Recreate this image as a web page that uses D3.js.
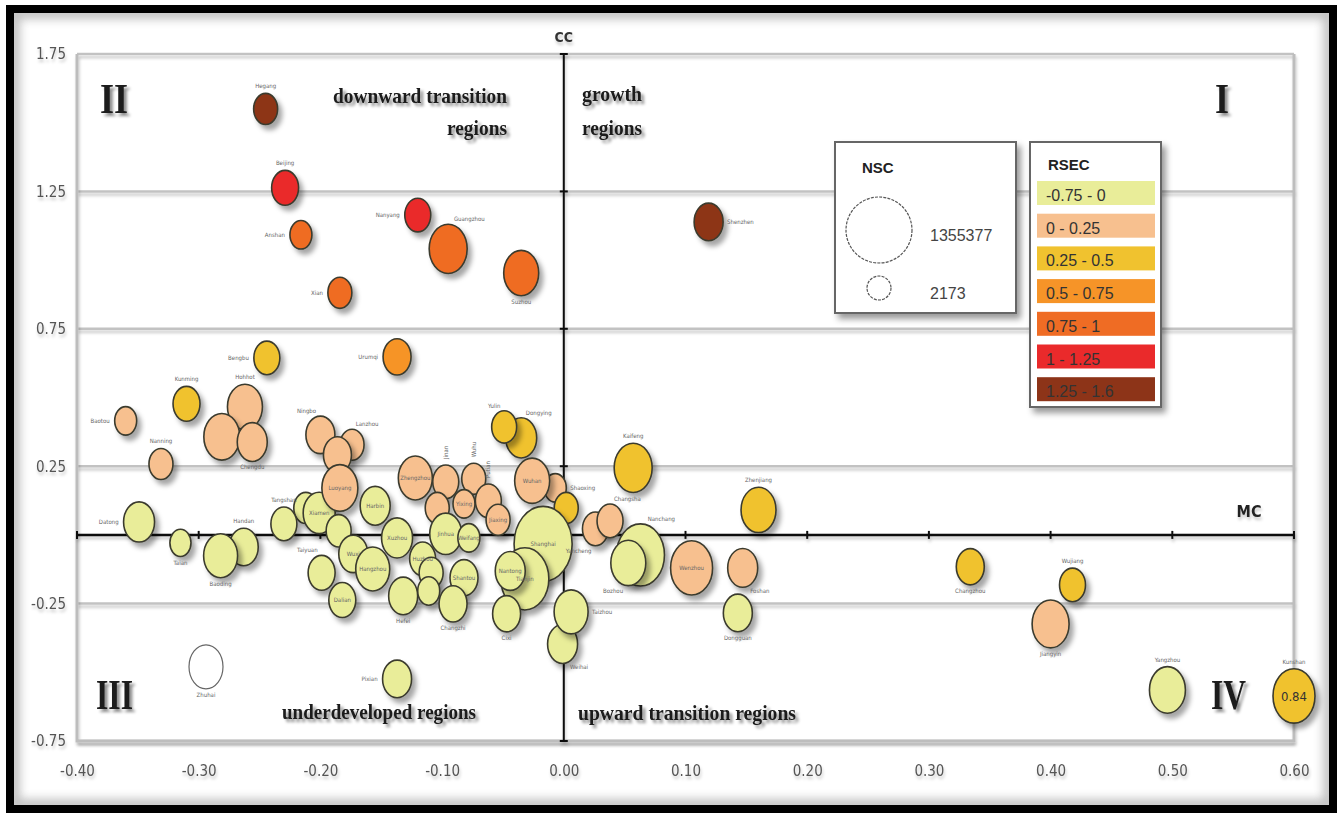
<!DOCTYPE html>
<html>
<head>
<meta charset="utf-8">
<script src="https://cdn.jsdelivr.net/npm/d3@7"></script>
<style>
  body { margin: 0; background: #fff; }
  svg { display: block; }
</style>
</head>
<body>
<div id="chart"></div>
<script>
const cities = [
  'Hegang', 'Beijing', 'Anshan', 'Nanyang', 'Guangzhou', 'Suzhou', 'Xian', 'Shenzhen',
  'Bengbu', 'Urumqi', 'Kunming', 'Baotou', 'Nanning', 'Hohhot', 'Chongqing', 'Chengdu',
  'Ningbo', 'Lanzhou', 'Jilin', 'Zibo', 'Xiamen', 'Luoyang', 'Tangshan', 'Yantai',
  'Harbin', 'Xuzhou', 'Wuxi', 'Hangzhou', 'Taiyuan', 'Dalian', 'Hefei', 'Zhengzhou',
  'Jinan', 'Wuhu', 'Fuzhou', 'Yixing', 'Putian', 'Jiaxing', 'Huzhou', 'Linyi',
  'Jining', 'Jinhua', 'Weifang', 'Shantou', 'Changzhi', 'Dongying', 'Yulin', 'Shaoxing',
  'Wuhan', 'Liuzhou', 'Shanghai', 'Tianjin', 'Nantong', 'Cixi', 'Weihai', 'Taizhou',
  'Datong', 'Taian', 'Handan', 'Baoding', 'Kaifeng', 'Zhenjiang', 'Yancheng', 'Changsha',
  'Nanchang', 'Bozhou', 'Wenzhou', 'Foshan', 'Dongguan', 'Changzhou', 'Wujiang', 'Jiangyin',
  'Yangzhou', 'Kunshan', 'Pixian', 'Zhuhai'
];

// MC (x)
const mcValues = [
  -0.245, -0.229, -0.216, -0.120, -0.095, -0.035, -0.184, 0.119,
  -0.244, -0.137, -0.310, -0.360, -0.331, -0.262, -0.281, -0.256,
  -0.200, -0.174, -0.186, -0.212, -0.201, -0.184, -0.230, -0.185,
  -0.155, -0.137, -0.173, -0.157, -0.199, -0.182, -0.132, -0.122,
  -0.097, -0.074, -0.104, -0.082, -0.062, -0.054, -0.116, -0.109,
  -0.111, -0.097, -0.078, -0.082, -0.091, -0.035, -0.049, -0.007,
  -0.026, 0.002, -0.017, -0.032, -0.044, -0.047, -0.001, 0.006,
  -0.349, -0.315, -0.263, -0.282, 0.057, 0.160, 0.026, 0.038,
  0.063, 0.053, 0.105, 0.147, 0.143, 0.334, 0.418, 0.400,
  0.496, 0.84, -0.137, -0.294
];

// CC (y)
const ccValues = [
  1.550, 1.263, 1.092, 1.164, 1.041, 0.953, 0.881, 1.139,
  0.644, 0.648, 0.477, 0.415, 0.258, 0.466, 0.357, 0.338,
  0.364, 0.328, 0.291, 0.098, 0.080, 0.171, 0.040, 0.015,
  0.106, -0.011, -0.069, -0.124, -0.138, -0.237, -0.222, 0.207,
  0.193, 0.204, 0.098, 0.113, 0.124, 0.055, -0.087, -0.138,
  -0.204, 0.004, -0.011, -0.156, -0.251, 0.353, 0.393, 0.171,
  0.197, 0.098, -0.033, -0.160, -0.131, -0.287, -0.397, -0.280,
  0.047, -0.029, -0.044, -0.076, 0.244, 0.091, 0.022, 0.051,
  -0.073, -0.102, -0.120, -0.120, -0.284, -0.116, -0.182, -0.324,
  -0.564, -0.586, -0.524, -0.480
];

// NSC (bubble size)
const nscValues = [
  17900, 50200, 5360, 37600, 310000, 217000, 17900, 81200,
  37600, 64800, 50200, 5360, 17900, 217000, 246000, 99300,
  81200, 17900, 64800, 17900, 141000, 246000, 37600, 26800,
  99300, 119000, 81200, 190000, 50200, 50200, 81200, 190000,
  37600, 17900, 17900, 5360, 37600, 17900, 37600, 17900,
  5360, 141000, 5360, 64800, 64800, 119000, 26800, 5360,
  217000, 17900, 1355377, 738000, 99300, 64800, 99300, 190000,
  119000, 2173, 81200, 190000, 310000, 217000, 37600, 37600,
  738000, 217000, 459000, 99300, 81200, 64800, 37600, 277000,
  246000, 459000, 81200, 190000
];

// RSEC (colour class)
const rsecValues = [
  1.42, 1.12, 0.86, 1.08, 0.82, 0.79, 0.90, 1.31,
  0.38, 0.62, 0.33, 0.18, 0.12, 0.20, 0.10, 0.15,
  0.08, 0.22, 0.14, -0.05, -0.20, 0.05, -0.12, -0.30,
  -0.15, -0.22, -0.25, -0.10, -0.35, -0.18, -0.28, 0.09,
  0.11, 0.16, 0.07, 0.13, 0.19, 0.06, -0.10, -0.40,
  -0.15, -0.08, -0.20, -0.30, -0.12, 0.28, 0.40, 0.03,
  0.10, 0.30, -0.05, -0.10, -0.20, -0.25, -0.30, -0.15,
  -0.12, -0.40, -0.22, -0.18, 0.35, 0.42, 0.12, 0.17,
  -0.08, -0.18, 0.14, 0.21, -0.10, 0.45, 0.31, 0.08,
  -0.20, 0.33, -0.30, null
];

const xTicks = [-0.40, -0.30, -0.20, -0.10, 0.00, 0.10, 0.20, 0.30, 0.40, 0.50, 0.60];
const yTicks = [1.75, 1.25, 0.75, 0.25, -0.25, -0.75];

const rsecBreaks = [0, 0.25, 0.5, 0.75, 1, 1.25];
const rsecLabels = ['-0.75 - 0', '0 - 0.25', '0.25 - 0.5', '0.5 - 0.75', '0.75 - 1', '1 - 1.25', '1.25 - 1.6'];
const rsecColors = ['#e9ed99', '#f7c08f', '#f0c22f', '#f69428', '#ef6c24', '#ea2a2b', '#8d3418'];
const nscLegend = [1355377, 2173];

// where each city name sits relative to its bubble (layout only)
const labelPlace = [
  't', 't', 'l', 'l', 'tr', 'b', 'l', 'r',
  'l', 'l', 't', 'l', 't', 't', '', 'b',
  'tl', 'tr', '', '', 'c', 'c', 't', '',
  'c', 'c', 'c', 'c', 'tl', 'c', 'b', 'c',
  'v', 'v', '', 'c', 'v', 'c', 'c', '',
  '', 'c', 'c', 'c', 'b', 'tr', 'tl', 'r',
  'c', '', 'c', 'c', 'c', 'b', 'br', 'r',
  'l', 'b', 't', 'b', 't', 't', 'bl', 'tr',
  'tr', 'bl', 'c', 'br', 'b', 'b', 't', 'b',
  't', 't', 'l', 'b'
];

const rows = cities.map((name, i) => ({
  name, mc: mcValues[i], cc: ccValues[i], nsc: nscValues[i], rsec: rsecValues[i], place: labelPlace[i]
}));

const width = 1340;
const height = 814;
const plot = { left: 77, right: 1294, top: 54, bottom: 741 };
const narrow = "'Liberation Sans Narrow', 'DejaVu Sans Condensed', sans-serif";
const serif = "'Liberation Serif', 'DejaVu Serif', serif";
const sans = "'Liberation Sans', Arial, sans-serif";

const x = d3.scaleLinear().domain([-0.4, 0.6]).range([plot.left, plot.right]).clamp(true);
const y = d3.scaleLinear().domain([-0.75, 1.75]).range([plot.bottom, plot.top]);
const color = d3.scaleThreshold().domain(rsecBreaks).range(rsecColors);
const size = d3.scaleSqrt().domain([2173, 1355377]).range([12, 33]);
const rx = d => size(d.nsc) * 0.88;
const ry = d => size(d.nsc) * 1.14;

const svg = d3.select('#chart')
  .append('svg')
  .attr('width', width)
  .attr('height', height);

const defs = svg.append('defs');
function shadow(id, dx, dy, sd, op) {
  defs.append('filter')
    .attr('id', id)
    .attr('x', '-40%').attr('y', '-40%').attr('width', '180%').attr('height', '180%')
    .append('feDropShadow')
      .attr('dx', dx).attr('dy', dy).attr('stdDeviation', sd)
      .attr('flood-color', '#000').attr('flood-opacity', op);
}
shadow('bubbleShadow', 4, 5, 2.5, 0.35);
shadow('textShadow', 3, 3, 1.8, 0.45);
shadow('lineShadow', 1, 3, 1.5, 0.22);
shadow('boxShadow', 4, 5, 3, 0.4);
defs.append('filter').attr('id', 'blur')
  .append('feGaussianBlur').attr('stdDeviation', 5);
defs.append('clipPath').attr('id', 'inner')
  .append('rect').attr('x', 14).attr('y', 13).attr('width', 1315).attr('height', 792);

// frame
svg.append('g')
  .attr('clip-path', 'url(#inner)')
  .append('rect')
    .attr('x', 14).attr('y', 13).attr('width', 1315).attr('height', 792)
    .attr('fill', 'none').attr('stroke', '#777').attr('stroke-width', 12)
    .attr('opacity', 0.45).attr('filter', 'url(#blur)');
svg.append('rect')
  .attr('x', 10).attr('y', 9).attr('width', 1323).attr('height', 800)
  .attr('fill', 'none').attr('stroke', '#000').attr('stroke-width', 8);

// gridlines and plot border
svg.append('g')
  .attr('filter', 'url(#lineShadow)')
  .selectAll('line')
  .data(yTicks)
  .join('line')
    .attr('x1', plot.left).attr('x2', plot.right)
    .attr('y1', d => y(d)).attr('y2', d => y(d))
    .attr('stroke', '#c2c2c2').attr('stroke-width', 2.5);

svg.append('path')
  .attr('d', `M${plot.left},${plot.top}V${plot.bottom}H${plot.right}V${plot.top}`)
  .attr('fill', 'none').attr('stroke', '#bdbdbd').attr('stroke-width', 3)
  .attr('filter', 'url(#lineShadow)');

// tick labels
function xAxis(g) {
  g.attr('transform', `translate(0,${plot.bottom})`)
    .call(d3.axisBottom(x).tickValues(xTicks).tickSize(0).tickPadding(24).tickFormat(d => d.toFixed(2)))
    .attr('font-family', narrow).attr('font-size', 15)
    .call(g => g.select('.domain').remove())
    .call(g => g.selectAll('text').attr('fill', '#555').attr('filter', 'url(#lineShadow)'));
}
function yAxis(g) {
  g.attr('transform', `translate(${plot.left},0)`)
    .call(d3.axisLeft(y).tickValues(yTicks).tickSize(0).tickPadding(11).tickFormat(d => d.toFixed(2)))
    .attr('font-family', narrow).attr('font-size', 15)
    .call(g => g.select('.domain').remove())
    .call(g => g.selectAll('text').attr('fill', '#555').attr('filter', 'url(#lineShadow)'));
}
svg.append('g').call(xAxis);
svg.append('g').call(yAxis);

// MC / CC axes through the origin
const axes = svg.append('g').attr('stroke', '#111').attr('filter', 'url(#lineShadow)');
axes.append('line')
  .attr('x1', x(0)).attr('x2', x(0)).attr('y1', y(1.75)).attr('y2', y(-0.75))
  .attr('stroke-width', 2);
axes.append('line')
  .attr('x1', x(-0.4)).attr('x2', x(0.6)).attr('y1', y(0)).attr('y2', y(0))
  .attr('stroke-width', 2.5);
axes.append('g').selectAll('line').data(xTicks).join('line')
  .attr('x1', d => x(d)).attr('x2', d => x(d)).attr('y1', y(0) - 4).attr('y2', y(0) + 4)
  .attr('stroke-width', 2);
axes.append('g').selectAll('line').data(yTicks).join('line')
  .attr('x1', x(0) - 4).attr('x2', x(0) + 4).attr('y1', d => y(d)).attr('y2', d => y(d))
  .attr('stroke-width', 2);

svg.append('text')
  .attr('x', x(0)).attr('y', 42)
  .attr('text-anchor', 'middle')
  .attr('font-family', narrow).attr('font-weight', 'bold').attr('font-size', 14)
  .attr('fill', '#333').attr('filter', 'url(#lineShadow)')
  .text('CC');
svg.append('text')
  .attr('x', 1249).attr('y', 517)
  .attr('text-anchor', 'middle')
  .attr('font-family', narrow).attr('font-weight', 'bold').attr('font-size', 16)
  .attr('fill', '#222').attr('filter', 'url(#lineShadow)')
  .text('MC');

// quadrant captions
const captions = [
  { t: 'II', x: 100, y: 113, len: 28, fs: 42 },
  { t: 'I', x: 1215, y: 113, len: 14, fs: 42 },
  { t: 'III', x: 96, y: 709, len: 37, fs: 42 },
  { t: 'IV', x: 1211, y: 709, len: 35, fs: 42 },
  { t: 'downward transition', x: 333, y: 103, len: 174, fs: 21 },
  { t: 'regions', x: 447, y: 135, len: 60, fs: 21 },
  { t: 'growth', x: 582, y: 101, len: 60, fs: 21 },
  { t: 'regions', x: 582, y: 135, len: 60, fs: 21 },
  { t: 'underdeveloped regions', x: 282, y: 719, len: 194, fs: 21 },
  { t: 'upward transition regions', x: 578, y: 720, len: 218, fs: 21 }
];
svg.append('g')
  .attr('font-family', serif).attr('font-weight', 'bold').attr('fill', '#1a1a1a')
  .attr('filter', 'url(#textShadow)')
  .selectAll('text')
  .data(captions)
  .join('text')
    .attr('x', d => d.x).attr('y', d => d.y)
    .attr('font-size', d => d.fs)
    .attr('textLength', d => d.len).attr('lengthAdjust', 'spacingAndGlyphs')
    .text(d => d.t);

// bubbles
svg.append('g')
  .selectAll('ellipse')
  .data(rows)
  .join('ellipse')
    .attr('cx', d => x(d.mc))
    .attr('cy', d => y(d.cc))
    .attr('rx', rx)
    .attr('ry', ry)
    .attr('fill', d => d.rsec == null ? '#fff' : color(d.rsec))
    .attr('stroke', d => d.rsec == null ? '#666' : '#3b3b2e')
    .attr('stroke-width', d => d.rsec == null ? 1.2 : 1.6)
    .attr('filter', d => d.rsec == null ? null : 'url(#bubbleShadow)');

// city labels
function labelPos(d) {
  const cx = x(d.mc), cy = y(d.cc), a = rx(d), b = ry(d);
  switch (d.place) {
    case 't': return [cx, cy - b - 5, 'middle'];
    case 'b': return [cx, cy + b + 8, 'middle'];
    case 'l': return [cx - a - 5, cy + 2, 'end'];
    case 'r': return [cx + a + 4, cy + 2, 'start'];
    case 'tl': return [cx - a * 0.3, cy - b - 3, 'end'];
    case 'tr': return [cx + a * 0.3, cy - b - 3, 'start'];
    case 'bl': return [cx - a * 0.3, cy + b + 7, 'end'];
    case 'br': return [cx + a * 0.5, cy + b + 6, 'start'];
    default: return [cx, cy + 2, 'middle'];
  }
}
const labelled = rows.filter(d => d.place);
svg.append('g')
  .attr('font-family', narrow).attr('font-size', 6).attr('fill', '#666')
  .selectAll('text')
  .data(labelled)
  .join('text')
    .attr('text-anchor', d => d.place === 'v' ? 'start' : labelPos(d)[2])
    .attr('transform', d => {
      if (d.place === 'v') return `translate(${x(d.mc) + 2},${y(d.cc) - ry(d) - 6}) rotate(-90)`;
      const p = labelPos(d);
      return `translate(${p[0]},${p[1]})`;
    })
    .text(d => d.name);

// value label for a bubble pushed to the axis edge
svg.append('g')
  .selectAll('text')
  .data(rows.filter(d => d.mc > 0.6))
  .join('text')
    .attr('x', d => x(d.mc)).attr('y', d => y(d.cc) + 5)
    .attr('text-anchor', 'middle')
    .attr('font-family', narrow).attr('font-size', 13).attr('fill', '#333')
    .text(d => d.mc.toFixed(2));

// NSC legend
const nscBox = svg.append('g');
nscBox.append('rect')
  .attr('x', 835).attr('y', 142).attr('width', 181).attr('height', 171)
  .attr('fill', '#fff').attr('stroke', '#666').attr('stroke-width', 2)
  .attr('filter', 'url(#boxShadow)');
nscBox.append('text')
  .attr('x', 862).attr('y', 173)
  .attr('font-family', sans).attr('font-weight', 'bold').attr('font-size', 15).attr('fill', '#222')
  .text('NSC');
const legendRowY = [230, 288];
nscBox.selectAll('circle')
  .data(nscLegend)
  .join('circle')
    .attr('cx', 879)
    .attr('cy', (d, i) => legendRowY[i])
    .attr('r', d => size(d))
    .attr('fill', '#fff').attr('stroke', '#555').attr('stroke-width', 1.2)
    .attr('stroke-dasharray', '3,1.2');
nscBox.selectAll('text.val')
  .data(nscLegend)
  .join('text')
    .attr('class', 'val')
    .attr('x', 930)
    .attr('y', (d, i) => legendRowY[i] + 11)
    .attr('font-family', sans).attr('font-size', 16).attr('fill', '#444')
    .text(d => d);

// RSEC legend
const rsecBox = svg.append('g');
rsecBox.append('rect')
  .attr('x', 1030).attr('y', 142).attr('width', 131).attr('height', 265)
  .attr('fill', '#fff').attr('stroke', '#666').attr('stroke-width', 2)
  .attr('filter', 'url(#boxShadow)');
rsecBox.append('text')
  .attr('x', 1048).attr('y', 170)
  .attr('font-family', sans).attr('font-weight', 'bold').attr('font-size', 15).attr('fill', '#222')
  .text('RSEC');
rsecBox.selectAll('rect.sw')
  .data(color.range())
  .join('rect')
    .attr('class', 'sw')
    .attr('x', 1037).attr('y', (d, i) => 181 + i * 32.7)
    .attr('width', 118).attr('height', 24)
    .attr('fill', d => d);
rsecBox.selectAll('text.lab')
  .data(rsecLabels)
  .join('text')
    .attr('class', 'lab')
    .attr('x', 1046).attr('y', (d, i) => 181 + i * 32.7 + 20)
    .attr('font-family', sans).attr('font-size', 16).attr('fill', '#333')
    .text(d => d);
</script>
</body>
</html>
